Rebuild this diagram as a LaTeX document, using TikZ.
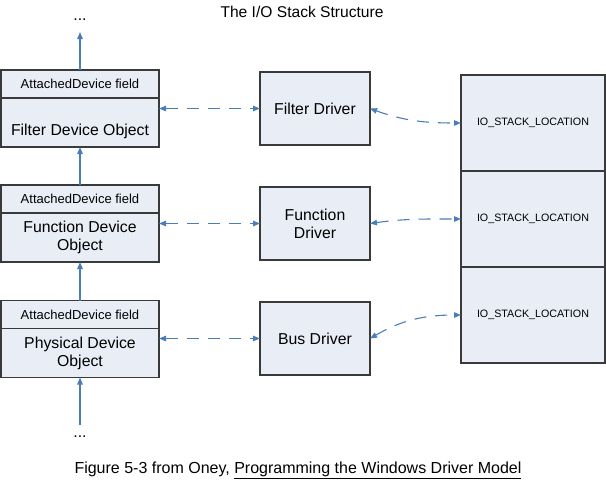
\documentclass[tikz,border=0pt]{standalone}
\usepackage{fontspec}
\setmainfont{Liberation Sans}
\usetikzlibrary{positioning,arrows.meta}
\definecolor{boxfill}{HTML}{E9EDF6}
\definecolor{linkblue}{HTML}{4A7EBB}
\definecolor{boxline}{HTML}{3A3A3A}

\begin{document}
\begin{tikzpicture}[x=1pt,y=1pt,>={Triangle[length=7pt,width=5.5pt]},
    box/.style={draw=boxline,line width=1.1pt,fill=boxfill,inner sep=2pt,outer sep=0pt,align=center},
    field node/.style={box,minimum width=158pt,minimum height=28pt,font=\fontsize{13}{15}\selectfont},
    obj node/.style={box,minimum width=158pt,minimum height=49pt,font=\fontsize{15.8}{18}\selectfont},
    drv node/.style={box,minimum width=110pt,minimum height=73pt,font=\fontsize{15.8}{18}\selectfont},
    loc node/.style={box,minimum width=144pt,minimum height=96pt,font=\fontsize{10.7}{12}\selectfont},
    stackarrow/.style={->,draw=linkblue,line width=1.2pt},
    dlink/.style={<->,draw=linkblue,line width=1.1pt,dash pattern=on 12pt off 9pt}]
                \useasboundingbox (0,0) rectangle (606,-483);

                \node[font=\fontsize{15.6}{18}\selectfont] (title) at (302,-12) {The I/O Stack Structure};

                % device objects
                \node[field node] (filtf) at (80,-84) {AttachedDevice field};
                \node[obj node,text height=26pt,text depth=0pt] (filto) [below=0pt of filtf] {Filter Device Object};
                \node[field node] (funcf) at (80,-199) {AttachedDevice field};
                \node[obj node] (funco) [below=0pt of funcf] {Function Device\\Object};
                \node[field node] (physf) at (80,-314.5) {AttachedDevice field};
                \node[obj node] (physo) [below=0pt of physf] {Physical Device\\Object};

                % drivers
                \node[drv node] (fdrv) at (315,-108.5) {Filter Driver};
                \node[drv node] (fndrv) at (315,-223.5) {Function\\Driver};
                \node[drv node] (bdrv) at (315,-338.5) {Bus Driver};

                % stack locations
                \node[loc node] (s1) at (533,-123) {IO\_STACK\_LOCATION};
                \node[loc node] (s2) [below=0pt of s1] {IO\_STACK\_LOCATION};
                \node[loc node] (s3) [below=0pt of s2] {IO\_STACK\_LOCATION};

                \node[font=\fontsize{15.8}{18}\selectfont] (topdots) at (80,-20) {...};
                \node[font=\fontsize{15.8}{18}\selectfont] (botdots) at (80,-437) {...};
                \coordinate (topend) at (80,-32);
                \coordinate (botstart) at (80,-425);

                \draw[stackarrow] (filtf.north) -- (topend);
                \draw[stackarrow] (funcf.north) -- (filto.south);
                \draw[stackarrow] (physf.north) -- (funco.south);
                \draw[stackarrow] (botstart) -- (physo.south);

                \draw[dlink] (filto.east |- fdrv.west) -- (fdrv.west);
                \draw[dlink] (funco.east |- fndrv.west) -- (fndrv.west);
                \draw[dlink] (physo.east |- bdrv.west) -- (bdrv.west);

                \draw[dlink] (fdrv.east) to[out=-20,in=180] (s1.west);
                \draw[dlink] (fndrv.east) to[out=8,in=180] (s2.west);
                \draw[dlink] (bdrv.east) to[out=30,in=180] (s3.west);

                \node[font=\fontsize{16}{18}\selectfont] (caption) at (298,-470)
                    {Figure 5-3 from Oney, \underline{Programming the Windows Driver Model}};
            \end{tikzpicture}
\end{document}
